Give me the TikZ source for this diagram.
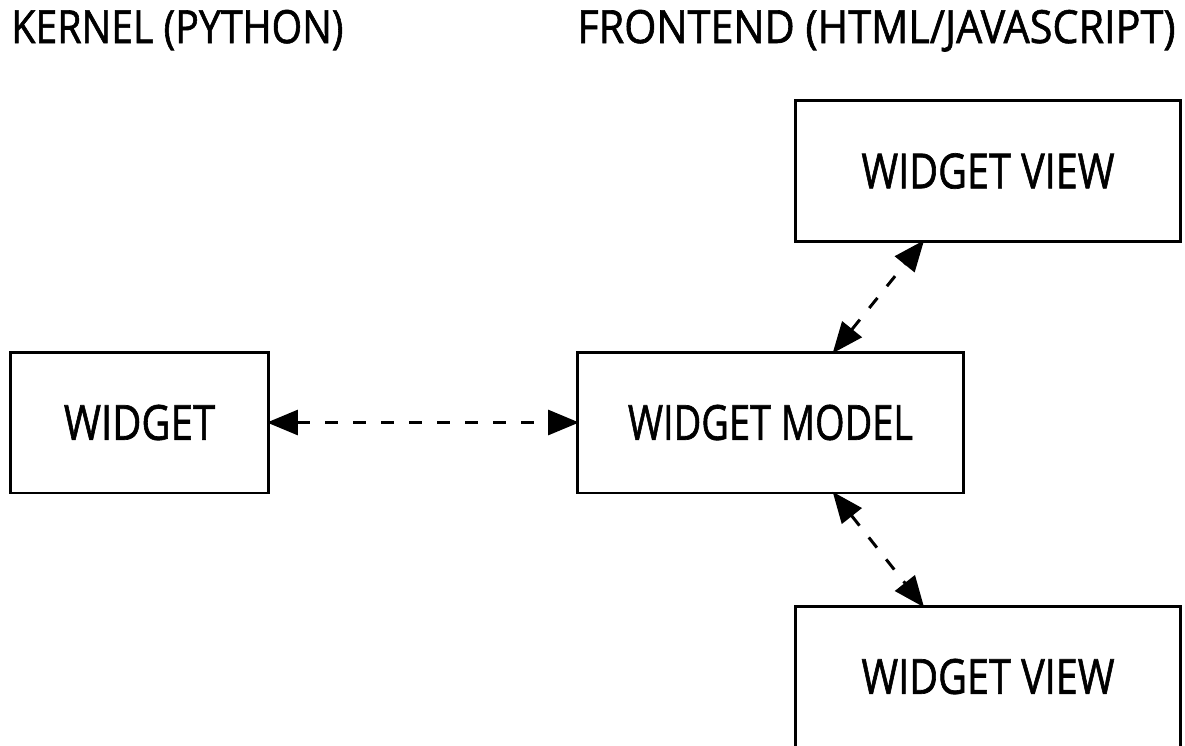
\documentclass[tikz,border=0pt]{standalone}
\usepackage{fontspec}
\setmainfont{Open Sans}
\newfontfamily\xkfont[FakeBold=1.4]{Open Sans}
\newcommand{\narrowtxt}[2]{\scalebox{#1}[1]{#2}}
\usetikzlibrary{arrows.meta,calc}
\begin{document}
\begin{tikzpicture}[x=0.02cm,y=-0.02cm,
  box/.style={draw=black,line width=1.7pt,minimum height=2.82cm,inner sep=0pt,font=\xkfont\fontsize{27.5}{30}\selectfont},
  link/.style={line width=1.7pt,dash pattern=on 0.26cm off 0.3cm,{Triangle[length=0.62cm,width=0.5cm]}-{Triangle[length=0.62cm,width=0.5cm]},shorten <=-2pt,shorten >=-2pt},
  title/.style={anchor=base west,inner sep=0pt,font=\xkfont\fontsize{26}{28}\selectfont}]
\useasboundingbox (0,0) rectangle (1185,745);
\node[title] (kt) at (11,43) {\narrowtxt{0.86}{KERNEL (PYTHON)}};
\node[title] (ft) at (577,43) {\narrowtxt{0.905}{FRONTEND (HTML/JAVASCRIPT)}};
\node[box,minimum width=5.18cm] (w) at (139.5,422.5) {\narrowtxt{0.83}{WIDGET}};
\node[box,minimum width=7.74cm] (m) at (770.5,422.5) {\narrowtxt{0.785}{WIDGET MODEL}};
\node[box,minimum width=7.72cm] (v1) at (988,171) {\narrowtxt{0.82}{WIDGET VIEW}};
\node[box,minimum width=7.72cm] (v2) at (988,676.5) {\narrowtxt{0.82}{WIDGET VIEW}};
\draw[link] (w.east) -- (m.west);
\draw[link] ($(m.north west)!0.665!(m.north east)$) -- ($(v1.south west)!0.33!(v1.south east)$);
\draw[link] ($(m.south west)!0.665!(m.south east)$) -- ($(v2.north west)!0.33!(v2.north east)$);
\end{tikzpicture}
\end{document}
